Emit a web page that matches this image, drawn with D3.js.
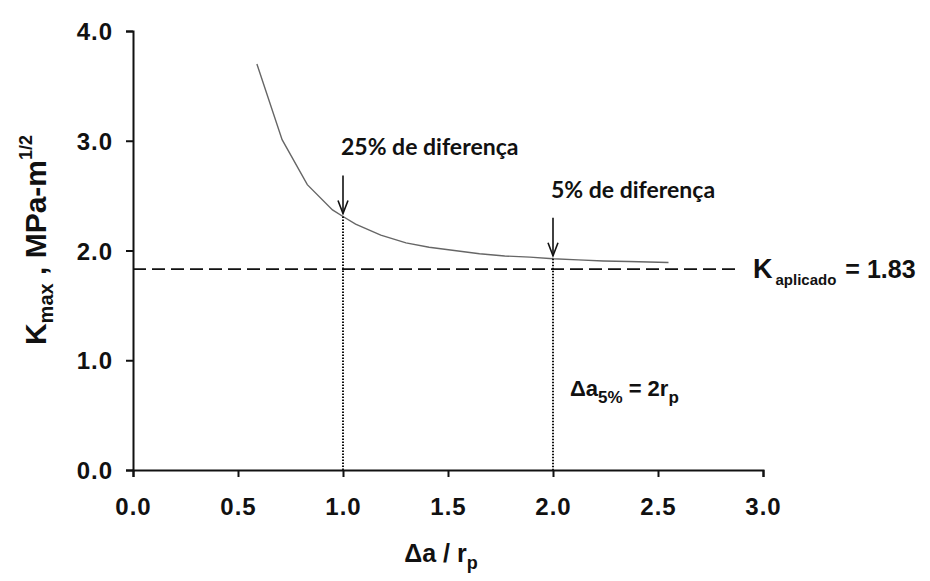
<!DOCTYPE html>
<html>
<head>
<meta charset="utf-8">
<script src="https://cdn.jsdelivr.net/npm/d3@7"></script>
<style>
  body { margin: 0; background: #fff; }
  svg { display: block; }
  .tick text { font-family: "Liberation Sans", Arial, sans-serif; font-weight: bold; font-size: 24px; letter-spacing: 1px; fill: #111; }
  .note { font-family: Lato, "Open Sans", sans-serif; font-weight: bold; font-size: 23px; fill: #111; }
  .big { font-family: "Liberation Sans", Arial, sans-serif; font-weight: bold; fill: #111; }
</style>
</head>
<body>
<svg id="chart" width="930" height="581"></svg>
<script>
// curve
let ratio = [0.59, 0.71, 0.83, 0.95, 1.0, 1.06, 1.18, 1.30, 1.41, 1.53, 1.65, 1.77, 1.89, 2.0, 2.12, 2.24, 2.36, 2.55]
let kmax = [3.70, 3.01, 2.60, 2.37, 2.31, 2.24, 2.14, 2.07, 2.03, 2.00, 1.97, 1.95, 1.94, 1.925, 1.915, 1.905, 1.90, 1.89]

let xTicks = [0, 0.5, 1.0, 1.5, 2.0, 2.5, 3.0]
let yTicks = [0, 1, 2, 3, 4]

const K_APPLIED = 1.83
let markerX = [1.0, 2.0]
let markerLabels = ['25% de diferença', '5% de diferença']

const svg = d3.select('#chart')

const x = d3.scaleLinear().domain([0, 3]).range([133, 763])
const y = d3.scaleLinear().domain([0, 4]).range([470, 31])

// axes
const xAxis = svg.append('g')
  .attr('transform', `translate(0,${y(0)})`)
  .call(d3.axisBottom(x).tickValues(xTicks).tickFormat(d3.format('.1f')).tickSize(7).tickSizeOuter(7))
const yAxis = svg.append('g')
  .attr('transform', `translate(${x(0)},0)`)
  .call(d3.axisLeft(y).tickValues(yTicks).tickFormat(d3.format('.1f')).tickSize(7).tickSizeOuter(7))

for (let a of [xAxis, yAxis]) {
  a.select('.domain').attr('stroke', '#111').attr('stroke-width', 2)
  a.selectAll('.tick line').attr('stroke', '#111').attr('stroke-width', 2)
}
xAxis.selectAll('.tick text').attr('y', 28).attr('dy', '0.71em')
yAxis.selectAll('.tick text').attr('x', -20).attr('dy', '0.36em')

// applied K dashed line
svg.append('line')
  .attr('x1', x(0)).attr('x2', 738)
  .attr('y1', y(K_APPLIED)).attr('y2', y(K_APPLIED))
  .attr('stroke', '#111').attr('stroke-width', 1.6)
  .attr('stroke-dasharray', '13,6')

// curve
const line = d3.line().x(d => x(d[0])).y(d => y(d[1]))
svg.append('path')
  .datum(d3.zip(ratio, kmax))
  .attr('d', line)
  .attr('fill', 'none')
  .attr('stroke', '#666')
  .attr('stroke-width', 1.4)

// markers: dotted drop lines, arrows, labels
markerX.forEach((mx, i) => {
  let k = kmax[ratio.indexOf(mx)]
  let px = x(mx)
  let tip = y(k) - 3
  let top = tip - 38

  svg.append('line')
    .attr('x1', px).attr('x2', px)
    .attr('y1', y(k)).attr('y2', y(0))
    .attr('stroke', '#111').attr('stroke-width', 2)
    .attr('stroke-dasharray', '1.5,1.5')

  svg.append('line')
    .attr('x1', px).attr('x2', px)
    .attr('y1', top).attr('y2', tip)
    .attr('stroke', '#111').attr('stroke-width', 1.6)
  svg.append('path')
    .attr('d', `M${px - 5},${tip - 13} L${px},${tip} L${px + 5},${tip - 13}`)
    .attr('fill', 'none')
    .attr('stroke', '#111').attr('stroke-width', 1.6)

  svg.append('text')
    .attr('class', 'note')
    .attr('x', px - 2).attr('y', top - 20)
    .text(markerLabels[i])
})

// K applied label
const kl = svg.append('text').attr('class', 'big')
  .attr('x', 753).attr('y', y(K_APPLIED) + 9)
kl.append('tspan').attr('font-size', 27).text('K')
kl.append('tspan').attr('font-size', 15).attr('dy', 7).attr('dx', 3).text('aplicado')
kl.append('tspan').attr('font-size', 25).attr('dy', -7).attr('dx', 9).text('= 1.83')

// Δa5% = 2rp
const dl = svg.append('text').attr('class', 'big')
  .attr('x', 570).attr('y', 396)
dl.append('tspan').attr('font-size', 22).text('Δa')
dl.append('tspan').attr('font-size', 17).attr('dy', 7).text('5%')
dl.append('tspan').attr('font-size', 22).attr('dy', -7).attr('dx', 6).text('= 2r')
dl.append('tspan').attr('font-size', 17).attr('dy', 7).text('p')

// x axis title
const xt = svg.append('text').attr('class', 'big')
  .attr('x', 441).attr('y', 562).attr('text-anchor', 'middle')
xt.append('tspan').attr('font-size', 25).text('Δa / r')
xt.append('tspan').attr('font-size', 18).attr('dy', 7).text('p')

// y axis title
const yt = svg.append('text').attr('class', 'big')
  .attr('transform', 'translate(46,240) rotate(-90)')
  .attr('text-anchor', 'middle')
yt.append('tspan').attr('font-size', 30).text('K')
yt.append('tspan').attr('font-size', 20).attr('dy', 7).text('max')
yt.append('tspan').attr('font-size', 30).attr('dy', -7).text(' , MPa-m')
yt.append('tspan').attr('font-size', 18).attr('dy', -14).text('1/2')
</script>
</body>
</html>
